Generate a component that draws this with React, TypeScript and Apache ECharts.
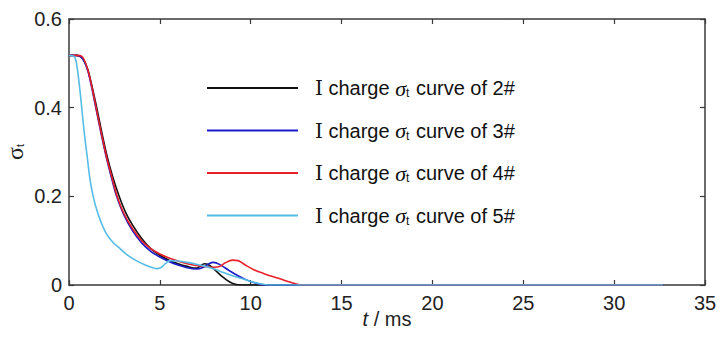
import React, { useEffect, useRef } from "react";
import * as echarts from "echarts";

const seriesNames = ["2#", "3#", "4#", "5#"];
const seriesColors = ["#111111", "#1a1ac8", "#e8202a", "#55bce6"];

const t2 = [0, 0.4, 0.7, 1.0, 1.2, 1.5, 1.8, 2.1, 2.4, 2.76, 3.1, 3.5, 4.0, 4.5, 5.0, 5.5, 6.0, 6.5, 7.0, 7.2, 7.45, 7.7, 8.0, 8.4, 8.8, 9.2, 9.5, 32.7];
const s2 = [0.518, 0.518, 0.513, 0.49, 0.46, 0.405, 0.345, 0.29, 0.245, 0.2, 0.165, 0.135, 0.105, 0.082, 0.067, 0.056, 0.048, 0.042, 0.038, 0.042, 0.048, 0.045, 0.035, 0.02, 0.008, 0.001, 0, 0];

const t3 = [0, 0.4, 0.7, 1.0, 1.2, 1.5, 1.8, 2.1, 2.4, 2.62, 3.0, 3.5, 4.0, 4.5, 5.0, 5.5, 6.0, 6.5, 7.0, 7.4, 7.7, 7.95, 8.3, 8.8, 9.3, 9.8, 10.3, 10.8, 32.7];
const s3 = [0.518, 0.518, 0.513, 0.488, 0.455, 0.395, 0.335, 0.28, 0.232, 0.2, 0.16, 0.122, 0.095, 0.076, 0.063, 0.053, 0.045, 0.039, 0.036, 0.04, 0.048, 0.051, 0.046, 0.033, 0.021, 0.011, 0.004, 0, 0];

const t4 = [0, 0.5, 0.75, 1.0, 1.2, 1.5, 1.8, 2.1, 2.4, 2.65, 3.0, 3.5, 4.0, 4.5, 5.0, 5.5, 6.0, 6.5, 7.0, 7.5, 8.0, 8.3, 8.6, 9.0, 9.3, 9.7, 10.2, 10.7, 11.2, 11.6, 12.2, 12.8, 32.7];
const s4 = [0.518, 0.518, 0.514, 0.49, 0.458, 0.398, 0.338, 0.283, 0.237, 0.2, 0.163, 0.127, 0.1, 0.082, 0.07, 0.061, 0.054, 0.048, 0.044, 0.041, 0.04, 0.042, 0.05, 0.056, 0.055, 0.045, 0.034, 0.026, 0.019, 0.014, 0.006, 0, 0];

const t5 = [0, 0.3, 0.45, 0.6, 0.7, 0.85, 1.0, 1.15, 1.33, 1.6, 2.0, 2.4, 2.7, 3.2, 3.7, 4.2, 4.6, 4.85, 5.1, 5.3, 5.55, 6.0, 6.5, 7.0, 7.5, 8.0, 8.5, 9.0, 9.55, 10.0, 10.5, 11.0, 32.7];
const s5 = [0.518, 0.515, 0.49, 0.44, 0.4, 0.34, 0.29, 0.24, 0.2, 0.16, 0.12, 0.097, 0.086, 0.068, 0.055, 0.045, 0.039, 0.037, 0.04, 0.048, 0.055, 0.054, 0.051, 0.047, 0.042, 0.036, 0.028, 0.021, 0.014, 0.008, 0.003, 0, 0];

const times = [t2, t3, t4, t5];
const values = [s2, s3, s4, s5];

const xTicks = { min: 0, max: 35, interval: 5 };
const yTicks = { min: 0, max: 0.6, interval: 0.2 };

const SANS = "'Liberation Sans', Arial, sans-serif";
const SERIF = "'DejaVu Serif', 'Liberation Serif', serif";
const ITALIC_SERIF = "'Liberation Serif', 'DejaVu Serif', serif";
const AXIS_COLOR = "#3a3a3a";

export default function App() {
  const ref = useRef<HTMLDivElement>(null);
  useEffect(() => {
    document.body.style.margin = "0";
    if (!ref.current) return;
    const chart = echarts.init(ref.current, null, { renderer: "svg" });
    const axisCommon = {
      axisLine: { show: true, onZero: false, lineStyle: { color: AXIS_COLOR, width: 1.5 } },
      axisTick: { show: true, inside: true, length: 5, lineStyle: { color: AXIS_COLOR, width: 1.2 } },
      splitLine: { show: false },
    };
    const labelStyle = { color: "#222", fontFamily: SANS, fontSize: 20 };
    const legendRich = {
      gap: { width: 12 },
      r: { fontFamily: SERIF, fontSize: 20, color: "#111", lineHeight: 22, verticalAlign: "middle" },
      c: { fontFamily: SANS, fontSize: 20, color: "#111", lineHeight: 22, verticalAlign: "middle" },
      s: { fontFamily: ITALIC_SERIF, fontStyle: "italic", fontSize: 22, color: "#111", lineHeight: 22, verticalAlign: "middle" },
      sub: { fontFamily: SANS, fontSize: 12, color: "#111", lineHeight: 12, verticalAlign: "bottom", padding: [0, 1, 0, 0] },
    };
    chart.setOption({
      animation: false,
      backgroundColor: "#ffffff",
      grid: { left: 69, right: 23, top: 19, bottom: 62, containLabel: false, outerBoundsMode: "none" },
      legend: {
        orient: "vertical",
        left: 207,
        top: 77,
        padding: 0,
        itemWidth: 91,
        itemHeight: 2,
        itemGap: 20.5,
        icon: "rect",
        data: seriesNames.map((n) => ({ name: n, icon: "rect" })),
        formatter: (name: string) => `{gap|}{r|Ⅰ}{c| charge }{s|σ}{sub|t}{c| curve of ${name}}`,
        textStyle: { rich: legendRich },
        selectedMode: false,
      },
      xAxis: [
        {
          type: "value",
          ...xTicks,
          position: "bottom",
          ...axisCommon,
          axisLabel: { ...labelStyle, margin: 8 },
          name: "{i|t}{n| / ms}",
          nameLocation: "middle",
          nameGap: 24,
          nameMoveOverlap: false,
          nameTextStyle: {
            rich: {
              i: { fontFamily: SANS, fontStyle: "italic", fontSize: 20, color: "#222" },
              n: { fontFamily: SANS, fontSize: 20, color: "#222" },
            },
          },
        },
        {
          type: "value",
          ...xTicks,
          position: "top",
          ...axisCommon,
          axisLabel: { show: false },
        },
      ],
      yAxis: [
        {
          type: "value",
          ...yTicks,
          position: "left",
          ...axisCommon,
          axisLabel: { ...labelStyle, margin: 7 },
          name: "{s|σ}{sub|t}",
          nameLocation: "middle",
          nameGap: 44,
          nameMoveOverlap: false,
          nameTextStyle: {
            rich: {
              s: { fontFamily: ITALIC_SERIF, fontSize: 24, lineHeight: 20, color: "#222", verticalAlign: "middle" },
              sub: { fontFamily: SANS, fontSize: 11, lineHeight: 11, color: "#222", verticalAlign: "bottom" },
            },
          },
        },
        {
          type: "value",
          ...yTicks,
          position: "right",
          ...axisCommon,
          axisLabel: { show: false },
        },
      ],
      series: seriesNames.map((n, i) => ({
        name: n,
        type: "line",
        xAxisIndex: 0,
        yAxisIndex: 0,
        data: times[i].map((t, k) => [t, values[i][k]]),
        smooth: 0.35,
        showSymbol: false,
        symbol: "none",
        lineStyle: { color: seriesColors[i], width: 1.6 },
        itemStyle: { color: seriesColors[i] },
        z: 2 + i,
      })),
    });
    return () => chart.dispose();
  }, []);
  return <div ref={ref} style={{ width: 728, height: 347 }} />;
}
